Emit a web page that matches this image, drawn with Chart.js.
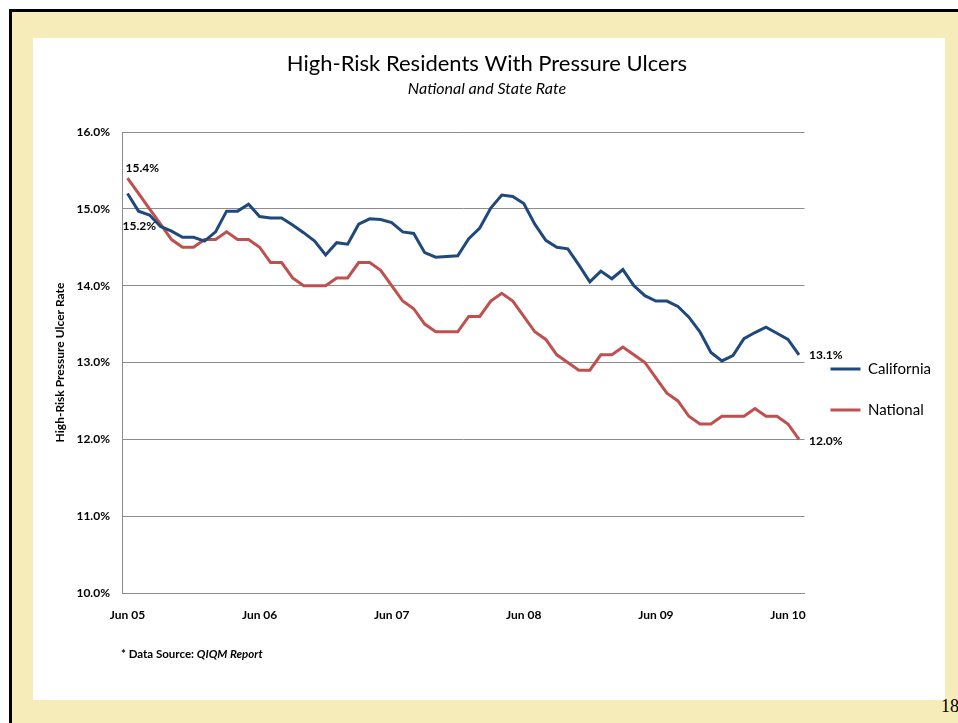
<!DOCTYPE html>
<html>
<head>
<meta charset="utf-8">
<title>High-Risk Residents With Pressure Ulcers</title>
<script src="https://cdn.jsdelivr.net/npm/chart.js@4.4.0/dist/chart.umd.min.js"></script>
<style>
  html, body { margin: 0; padding: 0; width: 958px; height: 723px; overflow: hidden; background: #fff; }
  .frame { position: absolute; left: 9px; top: 9px; right: 0; bottom: 0; background: #f6ecb9;
           border-left: 3px solid #000; border-top: 3px solid #000; }
  .panel { position: absolute; left: 33px; top: 38px; width: 912px; height: 662px; background: #fff; }
  #chart { position: absolute; left: 33px; top: 38px; }
  .source { position: absolute; left: 121px; top: 647px; font: bold 11.5px Lato; color: #000; }
  .pagenum { position: absolute; left: 941px; top: 696px; font: 18px "Liberation Serif"; color: #000; }
</style>
</head>
<body>
<div class="frame"></div>
<div class="panel"></div>
<canvas id="chart" width="908" height="690"></canvas>
<div class="source">* Data Source: <i>QIQM Report</i></div>
<div class="pagenum">18</div>

<script>
var months = [
  'Jun 05', 'Jul 05', 'Aug 05', 'Sep 05', 'Oct 05', 'Nov 05', 'Dec 05',
  'Jan 06', 'Feb 06', 'Mar 06', 'Apr 06', 'May 06', 'Jun 06', 'Jul 06', 'Aug 06', 'Sep 06', 'Oct 06', 'Nov 06', 'Dec 06',
  'Jan 07', 'Feb 07', 'Mar 07', 'Apr 07', 'May 07', 'Jun 07', 'Jul 07', 'Aug 07', 'Sep 07', 'Oct 07', 'Nov 07', 'Dec 07',
  'Jan 08', 'Feb 08', 'Mar 08', 'Apr 08', 'May 08', 'Jun 08', 'Jul 08', 'Aug 08', 'Sep 08', 'Oct 08', 'Nov 08', 'Dec 08',
  'Jan 09', 'Feb 09', 'Mar 09', 'Apr 09', 'May 09', 'Jun 09', 'Jul 09', 'Aug 09', 'Sep 09', 'Oct 09', 'Nov 09', 'Dec 09',
  'Jan 10', 'Feb 10', 'Mar 10', 'Apr 10', 'May 10', 'Jun 10', 'Jul 10'
];
var tickLabels = ['Jun 05', 'Jun 06', 'Jun 07', 'Jun 08', 'Jun 09', 'Jun 10'];

var california = [
  15.2, 14.97, 14.92, 14.77, 14.71, 14.63, 14.63, 14.58, 14.70, 14.97, 14.97, 15.06,
  14.90, 14.88, 14.88, 14.79, 14.69, 14.58, 14.40, 14.56, 14.54, 14.80, 14.87, 14.86,
  14.82, 14.70, 14.68, 14.43, 14.37, 14.38, 14.39, 14.61, 14.75, 15.01, 15.18, 15.16,
  15.07, 14.80, 14.59, 14.50, 14.48, 14.27, 14.05, 14.19, 14.09, 14.21, 14.00, 13.87,
  13.80, 13.80, 13.73, 13.59, 13.40, 13.13, 13.02, 13.09, 13.31, 13.39, 13.46, 13.38,
  13.30, 13.1
];
var national = [
  15.4, 15.2, 15.0, 14.8, 14.6, 14.5, 14.5, 14.6, 14.6, 14.7, 14.6, 14.6,
  14.5, 14.3, 14.3, 14.1, 14.0, 14.0, 14.0, 14.1, 14.1, 14.3, 14.3, 14.2,
  14.0, 13.8, 13.7, 13.5, 13.4, 13.4, 13.4, 13.6, 13.6, 13.8, 13.9, 13.8,
  13.6, 13.4, 13.3, 13.1, 13.0, 12.9, 12.9, 13.1, 13.1, 13.2, 13.1, 13.0,
  12.8, 12.6, 12.5, 12.3, 12.2, 12.2, 12.3, 12.3, 12.3, 12.4, 12.3, 12.3,
  12.2, 12.0
];
var yMin = 10, yMax = 16;

Chart.defaults.font.family = 'Lato';
Chart.defaults.color = '#000';

// first and last values written next to the lines
var valueLabels = {
  id: 'valueLabels',
  afterDatasetsDraw: function(chart) {
    var ctx = chart.ctx;
    var spots = [
      {ds: 1, i: 0, dx: -2, dy: -10},
      {ds: 0, i: 0, dx: -5, dy: 33},
      {ds: 0, i: california.length - 1, dx: 10, dy: 0},
      {ds: 1, i: national.length - 1, dx: 10, dy: 2}
    ];
    ctx.save();
    ctx.font = 'bold 12px Lato';
    ctx.fillStyle = '#000';
    ctx.textAlign = 'left';
    ctx.textBaseline = 'middle';
    spots.forEach(function(s) {
      var pt = chart.getDatasetMeta(s.ds).data[s.i];
      var v = chart.data.datasets[s.ds].data[s.i];
      ctx.fillText(v.toFixed(1) + '%', pt.x + s.dx, pt.y + s.dy);
    });
    ctx.restore();
  }
};

var ctx = document.getElementById('chart').getContext('2d');
var chart = new Chart(ctx, {
  type: 'line',
  data: {
    labels: months,
    datasets: [{
      label: 'California',
      data: california,
      borderColor: '#1f497d',
      backgroundColor: '#1f497d',
      borderWidth: 3,
      pointRadius: 0,
      tension: 0
    }, {
      label: 'National',
      data: national,
      borderColor: '#c0504d',
      backgroundColor: '#c0504d',
      borderWidth: 3,
      pointRadius: 0,
      tension: 0
    }]
  },
  options: {
    responsive: false,
    animation: false,
    layout: { padding: { top: 13, left: 0, right: 0, bottom: 0 } },
    plugins: {
      title: {
        display: true,
        text: 'High-Risk Residents With Pressure Ulcers',
        font: { size: 22, weight: 'normal' },
        padding: { top: 0, bottom: 0 }
      },
      subtitle: {
        display: true,
        text: 'National and State Rate',
        font: { size: 16, style: 'italic' },
        color: '#000',
        padding: { top: 2, bottom: 33.4 }
      },
      legend: {
        position: 'right',
        labels: {
          usePointStyle: true,
          pointStyle: 'line',
          pointStyleWidth: 30,
          padding: 26,
          color: '#000',
          font: { size: 15 }
        }
      },
      tooltip: { enabled: false }
    },
    scales: {
      x: {
        offset: true,
        grid: { display: false, drawTicks: false },
        border: { display: true, color: '#8c8c8c', width: 1 },
        ticks: {
          autoSkip: false,
          maxRotation: 0,
          minRotation: 0,
          padding: 15,
          font: { size: 12, weight: 'bold' },
          callback: function(v) {
            var l = this.getLabelForValue(v);
            return tickLabels.indexOf(l) >= 0 ? l : '';
          }
        },
        afterFit: function(scale) { scale.height = 135; }
      },
      y: {
        min: yMin,
        max: yMax,
        grid: { color: '#8c8c8c', drawTicks: false },
        border: { display: true, color: '#8c8c8c', width: 1 },
        ticks: {
          stepSize: 1,
          padding: 12,
          font: { size: 12, weight: 'bold' },
          callback: function(v) { return v.toFixed(1) + '%'; }
        },
        title: {
          display: true,
          text: 'High-Risk Pressure Ulcer Rate',
          font: { size: 12, weight: 'bold' },
          padding: { top: 20, bottom: 0 }
        },
        afterFit: function(scale) { scale.width = 89; }
      }
    }
  },
  plugins: [valueLabels]
});
</script>
</body>
</html>
